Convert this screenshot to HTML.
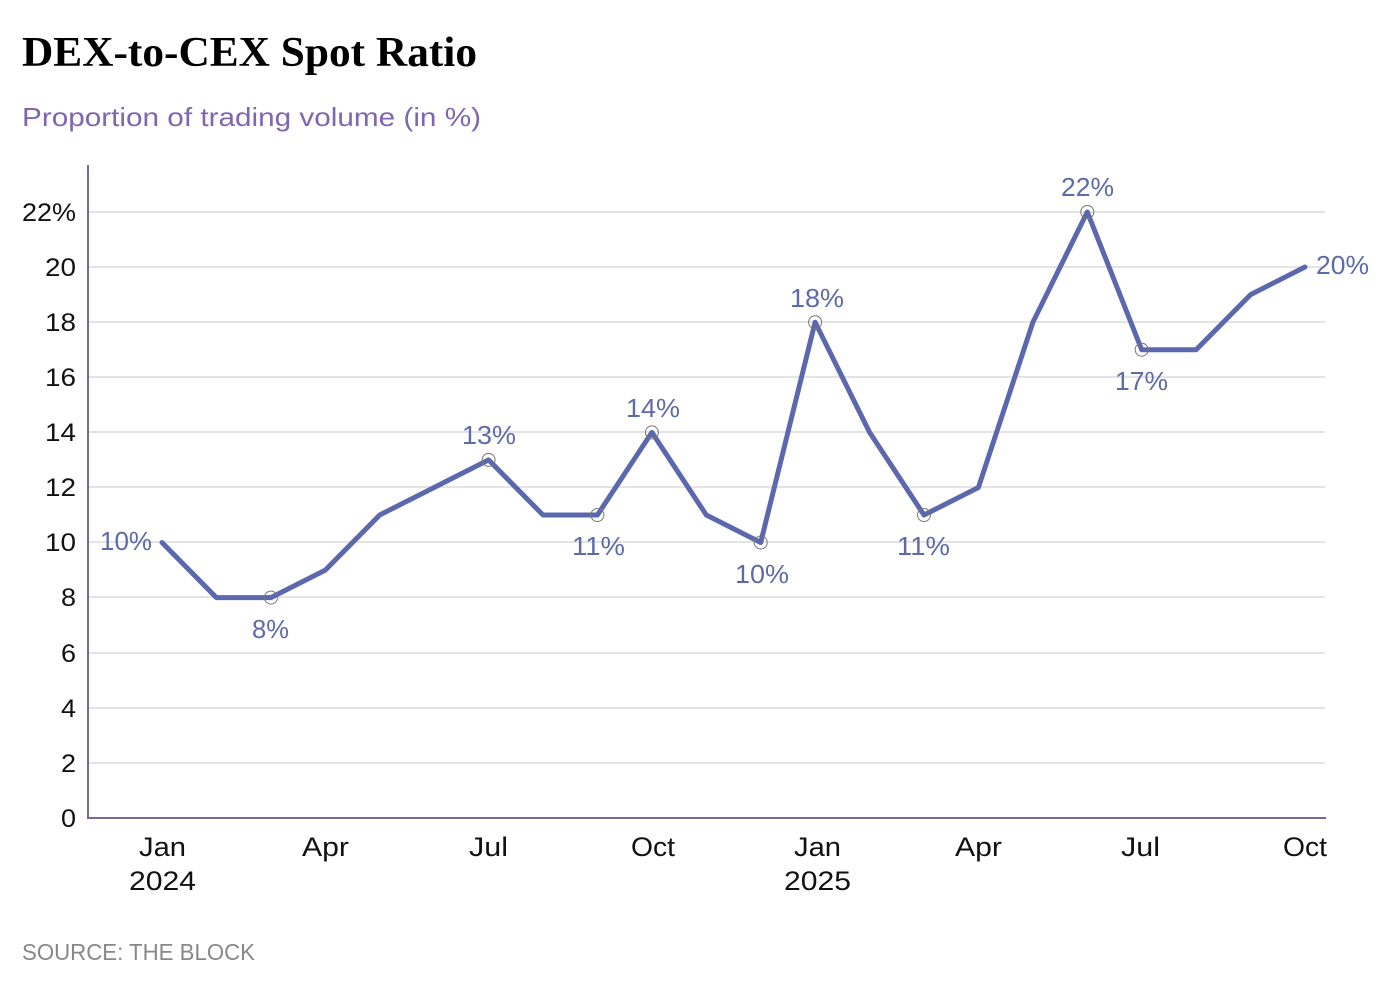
<!DOCTYPE html>
<html><head><meta charset="utf-8"><style>
html,body{margin:0;padding:0;background:#fff;}
svg{display:block;}
</style></head><body>
<svg width="1392" height="988" viewBox="0 0 1392 988" xmlns="http://www.w3.org/2000/svg">
<rect width="1392" height="988" fill="#fff"/>
<text x="22" y="66" font-family="Liberation Serif, serif" font-weight="bold" font-size="42" fill="#000" textLength="455" lengthAdjust="spacingAndGlyphs">DEX-to-CEX Spot Ratio</text>
<text x="22" y="126" font-family="Liberation Sans, sans-serif" font-size="26" fill="#7f66b0" textLength="459" lengthAdjust="spacingAndGlyphs">Proportion of trading volume (in %)</text>

<g stroke="#e4e4e4" stroke-width="2">
<line x1="89" y1="212" x2="1325" y2="212"/>
<line x1="89" y1="267" x2="1325" y2="267"/>
<line x1="89" y1="322" x2="1325" y2="322"/>
<line x1="89" y1="377" x2="1325" y2="377"/>
<line x1="89" y1="432" x2="1325" y2="432"/>
<line x1="89" y1="487" x2="1325" y2="487"/>
<line x1="89" y1="542" x2="1325" y2="542"/>
<line x1="89" y1="597" x2="1325" y2="597"/>
<line x1="89" y1="653" x2="1325" y2="653"/>
<line x1="89" y1="708" x2="1325" y2="708"/>
<line x1="89" y1="763" x2="1325" y2="763"/>
</g>
<line x1="88" y1="165" x2="88" y2="819" stroke="#7a6a92" stroke-width="2"/>
<line x1="87" y1="818" x2="1326" y2="818" stroke="#7a6a92" stroke-width="2"/>

<g font-family="Liberation Sans, sans-serif" font-size="25" fill="#111">
<text x="22" y="221" textLength="54" lengthAdjust="spacingAndGlyphs">22%</text>
<text x="45" y="276" textLength="31" lengthAdjust="spacingAndGlyphs">20</text>
<text x="45" y="331" textLength="31" lengthAdjust="spacingAndGlyphs">18</text>
<text x="45" y="386" textLength="31" lengthAdjust="spacingAndGlyphs">16</text>
<text x="45" y="441" textLength="31" lengthAdjust="spacingAndGlyphs">14</text>
<text x="45" y="496" textLength="31" lengthAdjust="spacingAndGlyphs">12</text>
<text x="45" y="551" textLength="31" lengthAdjust="spacingAndGlyphs">10</text>
<text x="61" y="606" textLength="15" lengthAdjust="spacingAndGlyphs">8</text>
<text x="61" y="662" textLength="15" lengthAdjust="spacingAndGlyphs">6</text>
<text x="61" y="717" textLength="15" lengthAdjust="spacingAndGlyphs">4</text>
<text x="61" y="772" textLength="15" lengthAdjust="spacingAndGlyphs">2</text>
<text x="61" y="827" textLength="15" lengthAdjust="spacingAndGlyphs">0</text>
</g>
<g font-family="Liberation Sans, sans-serif" font-size="26.5" fill="#111">
<text x="139" y="856" textLength="47" lengthAdjust="spacingAndGlyphs">Jan</text>
<text x="129" y="890" textLength="67" lengthAdjust="spacingAndGlyphs">2024</text>
<text x="302" y="856" textLength="47" lengthAdjust="spacingAndGlyphs">Apr</text>
<text x="469" y="856" textLength="39" lengthAdjust="spacingAndGlyphs">Jul</text>
<text x="631" y="856" textLength="44" lengthAdjust="spacingAndGlyphs">Oct</text>
<text x="794" y="856" textLength="47" lengthAdjust="spacingAndGlyphs">Jan</text>
<text x="784" y="890" textLength="67" lengthAdjust="spacingAndGlyphs">2025</text>
<text x="955" y="856" textLength="47" lengthAdjust="spacingAndGlyphs">Apr</text>
<text x="1121" y="856" textLength="39" lengthAdjust="spacingAndGlyphs">Jul</text>
<text x="1283" y="856" textLength="44" lengthAdjust="spacingAndGlyphs">Oct</text>
</g>

<polyline fill="none" stroke="#5b68ad" stroke-width="5" stroke-linejoin="round" stroke-linecap="round"
points="162,542.5 216.4,597.6 270.9,597.6 325.3,570.1 379.7,515 434.1,487.5 488.6,459.9 543,515 597.4,515 651.9,432.4 706.3,515 760.7,542.5 815.1,322.2 869.6,432.4 924,515 978.4,487.5 1032.9,322.2 1087.3,212 1141.7,349.7 1196.1,349.7 1250.6,294.6 1305,267"/>

<g fill="none" stroke="#777" stroke-width="1">
<circle cx="270.9" cy="597.6" r="6.5"/>
<circle cx="488.6" cy="459.9" r="6.5"/>
<circle cx="597.4" cy="515" r="6.5"/>
<circle cx="651.9" cy="432.4" r="6.5"/>
<circle cx="760.7" cy="542.5" r="6.5"/>
<circle cx="815.1" cy="322.2" r="6.5"/>
<circle cx="924" cy="515" r="6.5"/>
<circle cx="1087.3" cy="212" r="6.5"/>
<circle cx="1141.7" cy="349.7" r="6.5"/>
</g>

<g font-family="Liberation Sans, sans-serif" font-size="25.5" fill="#5e6aa8">
<text x="100" y="550" textLength="52" lengthAdjust="spacingAndGlyphs">10%</text>
<text x="252" y="638" textLength="37" lengthAdjust="spacingAndGlyphs">8%</text>
<text x="462" y="444" textLength="54" lengthAdjust="spacingAndGlyphs">13%</text>
<text x="572" y="555" textLength="53" lengthAdjust="spacingAndGlyphs">11%</text>
<text x="626" y="417" textLength="54" lengthAdjust="spacingAndGlyphs">14%</text>
<text x="735" y="583" textLength="54" lengthAdjust="spacingAndGlyphs">10%</text>
<text x="790" y="307" textLength="54" lengthAdjust="spacingAndGlyphs">18%</text>
<text x="897" y="555" textLength="53" lengthAdjust="spacingAndGlyphs">11%</text>
<text x="1061" y="196" textLength="53" lengthAdjust="spacingAndGlyphs">22%</text>
<text x="1115" y="390" textLength="53" lengthAdjust="spacingAndGlyphs">17%</text>
<text x="1316" y="274" textLength="53" lengthAdjust="spacingAndGlyphs">20%</text>
</g>

<text x="22" y="960" font-family="Liberation Sans, sans-serif" font-size="23.5" fill="#888" textLength="233" lengthAdjust="spacingAndGlyphs">SOURCE: THE BLOCK</text>
</svg>
</body></html>
